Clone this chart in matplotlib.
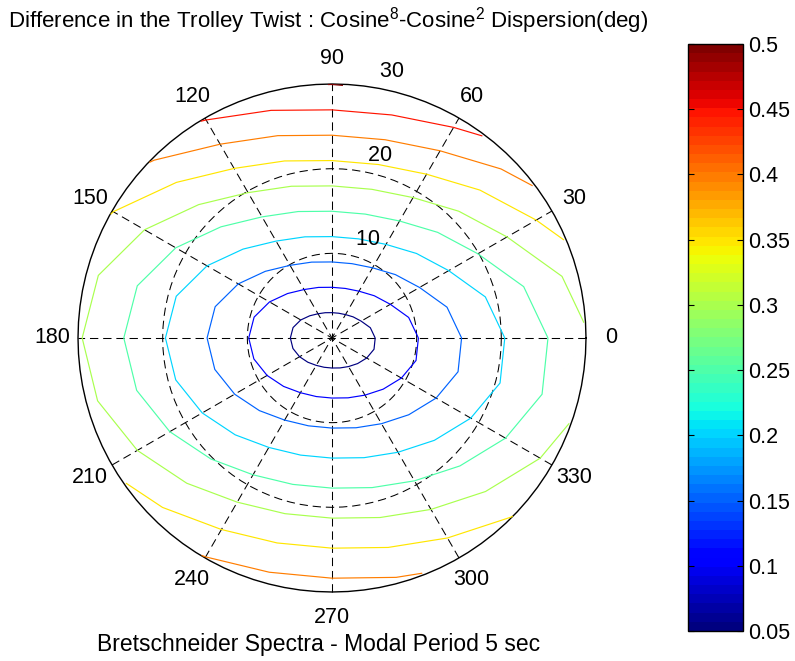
import numpy as np
import matplotlib
matplotlib.use("Agg")
import matplotlib.pyplot as plt
from matplotlib import colormaps
from matplotlib.colors import Normalize
from matplotlib.cm import ScalarMappable

plt.rcParams["font.family"] = ["Liberation Sans", "DejaVu Sans"]
plt.rcParams["mathtext.fontset"] = "custom"
plt.rcParams["mathtext.rm"] = "Liberation Sans"
plt.rcParams["mathtext.it"] = "Liberation Sans:italic"
plt.rcParams["lines.scale_dashes"] = False

# Wave heading (deg) and twist difference (deg) on the outer ring r = 30
headings = [0, 15, 30, 45, 60, 75, 90, 105, 120, 135, 150, 165,
            180, 195, 210, 225, 240, 255, 270, 285, 300, 315, 330, 345]
rim_diff = [0.294, 0.320, 0.377, 0.425, 0.470, 0.495, 0.501, 0.485,
            0.454, 0.404, 0.352, 0.315, 0.305, 0.314, 0.339, 0.371,
            0.402, 0.419, 0.423, 0.410, 0.385, 0.351, 0.317, 0.292]
r_max = 30
r_ticks = [10, 20, 30]
levels = [0.05, 0.10, 0.15, 0.20, 0.25, 0.30, 0.35, 0.40, 0.45, 0.50]
cbar_labels = ["0.05", "0.1", "0.15", "0.2", "0.25", "0.3", "0.35", "0.4", "0.45", "0.5"]
angle_ticks = list(range(0, 360, 30))
title = "Difference in the Trolley Twist : Cosine$^{8}$-Cosine$^{2}$ Dispersion(deg)"
xlabel = "Bretschneider Spectra - Modal Period 5 sec"

FS = 15.5
W, H = 795, 661
fig = plt.figure(figsize=(W / 100, H / 100), dpi=100)
fig.patch.set_facecolor("white")

cx, cy, scale = 332, 338, 254 / r_max
lim = 35
ax = fig.add_axes([(cx - lim * scale) / W, (H - cy - lim * scale) / H,
                   2 * lim * scale / W, 2 * lim * scale / H])
ax.set_xlim(-lim, lim)
ax.set_ylim(-lim, lim)
ax.axis("off")

jet64 = colormaps["jet"].resampled(64)
norm = Normalize(vmin=levels[0], vmax=levels[-1])

# polar grid
dash = (0, (6, 3.5))
t = np.linspace(0, 2 * np.pi, 101)
for rr in r_ticks[:-1]:
    ax.plot(rr * np.cos(t), rr * np.sin(t), color="k", lw=0.75, ls=dash)
for k in range(1, 7):
    th = np.deg2rad(30 * k)
    ax.plot([-r_max * np.cos(th), r_max * np.cos(th)],
            [-r_max * np.sin(th), r_max * np.sin(th)], color="k", lw=0.75, ls=dash)
ax.plot(r_max * np.cos(t), r_max * np.sin(t), color="k", lw=1.0)

for a in angle_ticks:
    th = np.deg2rad(a)
    ax.text(1.1 * r_max * np.cos(th), 1.1 * r_max * np.sin(th), str(a),
            ha="center", va="center", fontsize=FS)

c82, s82 = np.cos(np.deg2rad(82)), np.sin(np.deg2rad(82))
for rr in r_ticks:
    ax.text((rr + 0.5) * c82, (rr + 0.5) * s82, "  " + str(rr),
            ha="left", va="bottom", fontsize=FS)

# contour field over the polar disc
th_grid = np.deg2rad(np.append(headings, 360))
rim = np.append(rim_diff, rim_diff[0])
r = np.linspace(0, r_max, 31)
T, Rg = np.meshgrid(th_grid, r, indexing="ij")
Z = rim[:, None] * Rg / r_max
X = Rg * np.cos(T)
Y = Rg * np.sin(T)
ax.contour(X, Y, Z, levels=levels, cmap=jet64, norm=norm, linewidths=0.85)

# colour bar
cax = fig.add_axes([688 / W, (H - 631) / H, 55 / W, 587 / H])
cb = fig.colorbar(ScalarMappable(norm=norm, cmap=jet64), cax=cax)
cb.set_ticks(levels)
cb.set_ticklabels(cbar_labels)
cax.tick_params(axis="y", direction="in", left=True, right=True,
                length=4, width=0.8, labelsize=FS, pad=4)
cb.outline.set_linewidth(1.0)

fig.text(8 / W, 1 - 21 / H, title, ha="left", va="center", fontsize=16)
fig.text(97 / W, 1 - 645 / H, xlabel, ha="left", va="center", fontsize=16.5)

fig.savefig("out.png", dpi=100, facecolor="white")
